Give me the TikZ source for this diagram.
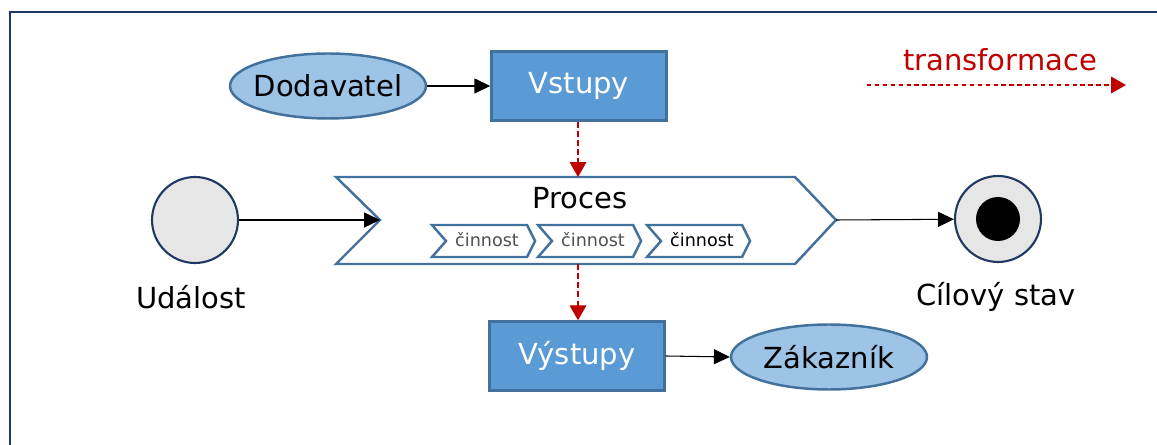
\documentclass[tikz,border=0pt]{standalone}
\usepackage{fontspec}
\setmainfont{DejaVu Sans}
\usetikzlibrary{arrows.meta,shapes.geometric}
\definecolor{lightblue}{HTML}{9DC3E6}
\definecolor{edgeblue}{HTML}{41719C}
\definecolor{boxblue}{HTML}{5B9BD5}
\definecolor{navy}{HTML}{1F3864}
\definecolor{statefill}{HTML}{E6E6E6}
\definecolor{darkred}{HTML}{C00000}
\definecolor{greytext}{HTML}{505050}
\tikzset{bigtext/.style={font=\fontsize{16.5}{19}\selectfont, inner sep=0pt},
smalltext/.style={font=\fontsize{10}{12}\selectfont, inner sep=0pt},
partner/.style={ellipse, draw=edgeblue, fill=lightblue, line width=1.4pt, minimum width=3.92cm, minimum height=1.3cm, bigtext, inner xsep=-3pt},
block/.style={rectangle, draw=edgeblue, fill=boxblue, line width=1.4pt, minimum width=3.5cm, minimum height=1.38cm, text=white, bigtext},
state/.style={circle, draw=navy, fill=statefill, line width=1.2pt, minimum size=1.72cm, inner sep=0pt},
chevron/.style={draw=edgeblue, fill=white, line width=1.4pt, line join=miter},
flow/.style={-{Triangle[length=9pt,width=8.5pt]}, line width=0.6pt},
redflow/.style={-{Triangle[length=8.5pt,width=9.5pt]}, draw=darkred, fill=darkred, line width=0.65pt, dash pattern=on 3.4pt off 1.8pt}}

\begin{document}
\begin{tikzpicture}[x=0.02cm,y=-0.02cm]

    \useasboundingbox (0,0) rectangle (1157,445);
    \draw[navy, line width=1.1pt] (10,445) -- (10,12) -- (1157,12);

    \node[partner] (dodavatel) at (328,86) {Dodavatel};
    \node[block] (vstupy) at (579,86) {Vstupy};
    \node[block] (vystupy) at (577,356) {Výstupy};
    \node[partner] (zakaznik) at (829,357) {Zákazník};

    \node[state] (udalost) at (195,220) {};
    \node[state] (cil) at (998,219) {};
    \node[circle, fill=black, minimum size=0.88cm, inner sep=0pt] (cilDot) at (cil) {};
    \node[bigtext] (udalostLbl) at (191,297) {Událost};
    \node[bigtext] (cilLbl) at (996,297) {Cílový stav};

    % proces
    \coordinate (pIn) at (380,220);
    \coordinate (pOut) at (836,220);
    \coordinate (pTop) at (578,177);
    \coordinate (pBot) at (578,264);
    \draw[chevron] (336,177) -- (795,177) -- (pOut) -- (795,264) -- (336,264) -- (pIn) -- cycle;
    \node[bigtext] (proces) at (580,198) {Proces};

    \foreach \x/\c [count=\i] in {432/greytext, 538/greytext, 647/black}{
      \draw[chevron] (\x,225) -- ++(95,0) -- ++(8,16) -- ++(-8,16) -- ++(-95,0) -- ++(14,-16) -- cycle;
      \node[smalltext, text=\c] (cinnost\i) at (\x+55,240) {činnost};
    }

    \draw[flow] (dodavatel.east) -- (vstupy.west);
    \draw[flow] (udalost) -- (pIn);
    \draw[flow] (pOut) -- (cil);
    \draw[flow] (vystupy.east) -- (zakaznik.west);
    \draw[redflow] (vstupy.south -| pTop) -- (pTop);
    \draw[redflow] (pBot) -- (pBot |- vystupy.north);

    % legenda
    \node[bigtext, text=darkred] (transf) at (1000,60) {transformace};
    \coordinate (tStart) at (867,85);
    \coordinate (tEnd) at (1126,85);
    \draw[redflow, dash pattern=on 2.5pt off 2pt] (tStart) -- (tEnd);

\end{tikzpicture}
\end{document}
